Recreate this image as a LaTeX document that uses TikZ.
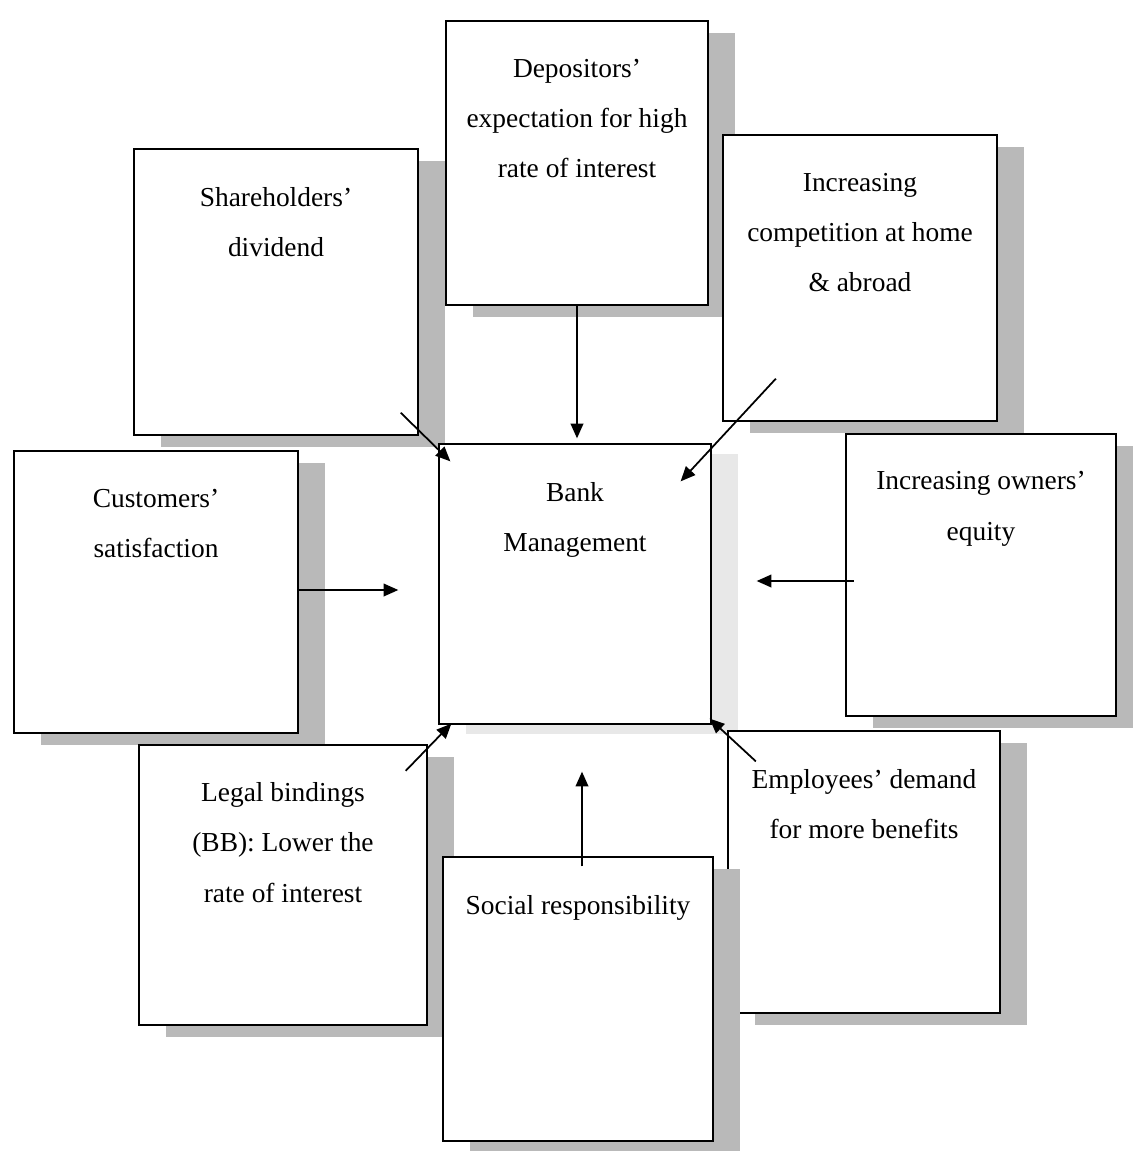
\documentclass[tikz,border=0pt]{standalone}
\usepackage{fontspec}
\setmainfont{Liberation Serif}
\usepackage{tikz}
\usetikzlibrary{arrows.meta, calc, shadows}
\tikzset{
	% boxes round the bank
	fbox/.style={rectangle, draw=black, line width=0.6pt, fill=white, inner sep=0pt,
		general shadow={fill=gray!55, shadow xshift=0.27cm, shadow yshift=-0.12cm}},
	cbox/.style={rectangle, draw=black, line width=0.6pt, fill=white, inner sep=0pt,
		general shadow={fill=gray!18, shadow xshift=0.27cm, shadow yshift=-0.1cm}},
	lbl/.style={anchor=north, align=center, inner sep=0pt, yshift=-0.38cm},
	arr/.style={-{Triangle[length=4.2pt, width=3.6pt]}, line width=0.5pt},
}
\begin{document}
\begin{tikzpicture}[x=0.01cm, y=-0.01cm, font=\fontsize{7.8}{14.3}\selectfont]
	\useasboundingbox (0,0) rectangle (1133,1151);
	% outer factors
	\node[fbox, minimum width=2.83cm, minimum height=2.85cm] (share) at (276,292) {};
	\node[fbox, minimum width=2.61cm, minimum height=2.83cm] (dep) at (577,163) {};
	\node[fbox, minimum width=2.74cm, minimum height=2.85cm] (comp) at (860,278) {};
	\node[fbox, minimum width=2.83cm, minimum height=2.81cm] (cust) at (156,592) {};
	\node[cbox, minimum width=2.71cm, minimum height=2.79cm] (bank) at (575,584) {};
	\node[fbox, minimum width=2.70cm, minimum height=2.82cm] (owner) at (981,575) {};
	\node[fbox, minimum width=2.87cm, minimum height=2.80cm] (legal) at (283,885) {};
	\node[fbox, minimum width=2.72cm, minimum height=2.81cm] (emp) at (864,872) {};
	\node[fbox, minimum width=2.70cm, minimum height=2.83cm] (social) at (578,999) {};
	% texts
	\node[lbl] (share-t) at (share.north) {Shareholders'\\dividend};
	\node[lbl] (dep-t) at (dep.north) {Depositors'\\expectation for high\\rate of interest};
	\node[lbl] (comp-t) at (comp.north) {Increasing\\competition at home\\\& abroad};
	\node[lbl] (cust-t) at (cust.north) {Customers'\\satisfaction};
	\node[lbl] (bank-t) at (bank.north) {Bank\\Management};
	\node[lbl] (owner-t) at (owner.north) {Increasing owners'\\equity};
	\node[lbl] (legal-t) at (legal.north) {Legal bindings\\(BB): Lower the\\rate of interest};
	\node[lbl] (emp-t) at (emp.north) {Employees' demand\\for more benefits};
	\node[lbl] (social-t) at (social.north) {Social responsibility};
	% arrows into the bank
	\draw[arr, shorten >=0.05cm] (dep.south) -- (dep.south |- bank.north);
	\draw[arr] ($(share.south east)+(-18,-23)$) -- ($(bank.north west)+(12,18)$);
	\draw[arr] ($(comp.south west)+(54,-43)$) -- ($(bank.north east)+(-31,38)$);
	\draw[arr, shorten >=0.4cm] ($(cust.east)+(0,-2)$) -- ($(cust.east -| bank.west)+(0,-2)$);
	\draw[arr] ($(owner.west)+(9,6)$) -- ($(bank.east |- owner.west)+(45,6)$);
	\draw[arr] ($(legal.north east)+(-22,27)$) -- ($(bank.south west)+(13,-1)$);
	\draw[arr] ($(social.north)+(4,10)$) -- ($(social.north |- bank.south)+(4,47)$);
	\draw[arr] ($(emp.north west)+(29,31)$) -- ($(bank.south east)+(-2,-6)$);
\end{tikzpicture}
\end{document}
